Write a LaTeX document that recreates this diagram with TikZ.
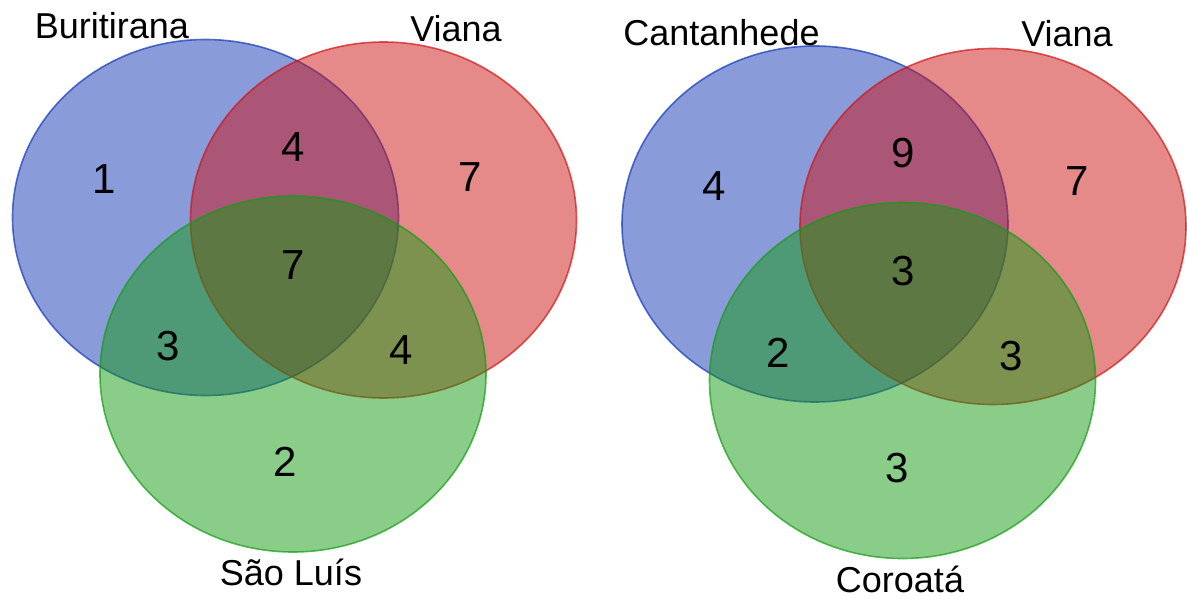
\documentclass[tikz,border=0pt]{standalone}
\usepackage{fontspec}
\setmainfont{Liberation Sans}
\usetikzlibrary{positioning}
\definecolor{setblue}{RGB}{20, 55, 180}
\definecolor{setred}{RGB}{205, 20, 20}
\definecolor{setgreen}{RGB}{20, 155, 20}

\begin{document}
\begin{tikzpicture}[x=1pt, y=-1pt,
    setfill/.style={fill=#1, fill opacity=0.5, draw=#1, draw opacity=0.7, line width=1.6pt},
    count/.style={inner sep=0pt, font=\fontsize{42}{42}\selectfont},
    setname/.style={anchor=base, inner sep=0pt, font=\fontsize{36}{36}\selectfont}
]
\useasboundingbox (0,0) rectangle (1187,599);

% Left diagram
\begin{scope}
    \filldraw[setfill=setblue] (205.5,217.5) ellipse [x radius=193pt, y radius=178pt];
    \filldraw[setfill=setred] (383.5,220) ellipse [x radius=193pt, y radius=178pt];
    \filldraw[setfill=setgreen] (293,374) ellipse [x radius=193pt, y radius=178pt];

    \node[setname] (bur) at (112,39) {Buritirana};
    \node[setname] (via1) at (456,42) {Viana};
    \node[setname] (slz) at (291,585) {São Luís};

    \node[count] (l1) at (104,179) {1};
    \node[count] (l2) at (293,147) {4};
    \node[count] (l3) at (470,177) {7};
    \node[count] (l4) at (293,265) {7};
    \node[count] (l5) at (168,346) {3};
    \node[count] (l6) at (401,350) {4};
    \node[count] (l7) at (285,462) {2};
\end{scope}

% Right diagram
\begin{scope}[shift={(609.5,6.5)}]
    \filldraw[setfill=setblue] (205.5,217.5) ellipse [x radius=193pt, y radius=178pt];
    \filldraw[setfill=setred] (383.5,220) ellipse [x radius=193pt, y radius=178pt];
    \filldraw[setfill=setgreen] (293,374) ellipse [x radius=193pt, y radius=178pt];

    \node[setname] (can) at (112,39.5) {Cantanhede};
    \node[setname] (via2) at (457.5,40.5) {Viana};
    \node[setname] (cor) at (290.5,585.5) {Coroatá};

    \node[count] (r1) at (104.5,179.5) {4};
    \node[count] (r2) at (293.5,146.5) {9};
    \node[count] (r3) at (467.5,174.5) {7};
    \node[count] (r4) at (293.5,264.5) {3};
    \node[count] (r5) at (168.5,346.5) {2};
    \node[count] (r6) at (401.5,349.5) {3};
    \node[count] (r7) at (287.5,461.5) {3};
\end{scope}

\end{tikzpicture}
\end{document}
